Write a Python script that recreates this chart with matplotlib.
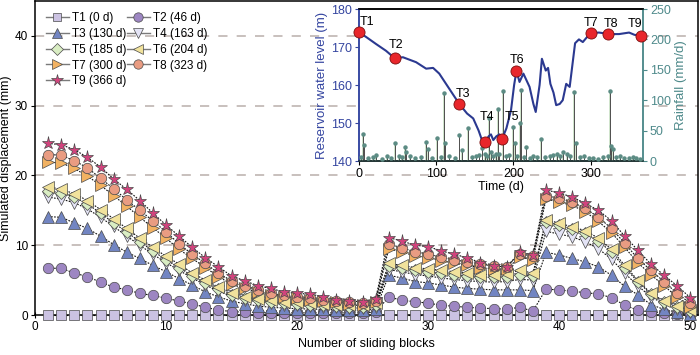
import numpy as np
import matplotlib
matplotlib.use("Agg")
import matplotlib.pyplot as plt
from matplotlib.lines import Line2D

plt.rcParams['font.family'] = ['Liberation Sans', 'DejaVu Sans']

# ---------------- data ----------------
blocks = list(range(1, 51))

T1 = [0.0] * 50
T2 = [6.7, 6.7, 6.0, 5.5, 4.7, 4.0, 3.6, 3.1, 2.8, 2.4, 2.0, 1.6, 1.1, 0.7, 0.5, 0.4, 0.35, 0.3, 0.3, 0.3,
      0.3, 0.3, 0.3, 0.3, 0.3, 0.4,
      2.6, 2.1, 1.9, 1.7, 1.4, 1.25, 1.1, 1.0, 0.9, 0.85, 1.1, 0.55,
      3.7, 3.6, 3.4, 3.2, 3.0, 2.5, 1.4, 0.7, 0.4, 0.3, 0.2, 0.15]
T3 = [14.1, 14.0, 13.2, 12.4, 11.3, 10.1, 9.0, 8.1, 7.1, 6.2, 5.2, 4.3, 3.3, 2.6, 2.0, 1.6, 1.3, 1.1, 1.0, 0.9,
      0.85, 0.8, 0.75, 0.7, 0.7, 0.8,
      5.7, 5.3, 4.8, 4.6, 4.3, 4.0, 3.8, 3.7, 3.6, 3.6, 3.6, 3.5,
      9.0, 8.6, 8.1, 7.6, 6.9, 5.7, 4.1, 2.9, 1.5, 0.8, 0.4, 0.2]
T4 = [16.9, 16.6, 16.1, 15.2, 14.0, 12.7, 11.3, 10.0, 8.7, 7.5, 6.4, 5.3, 4.3, 3.4, 2.7, 2.2, 1.9, 1.7, 1.5, 1.4,
      1.3, 1.2, 1.1, 1.0, 1.0, 1.2,
      6.5, 6.2, 5.8, 5.6, 5.3, 5.1, 4.9, 4.8, 4.7, 4.8, 5.1, 5.0,
      12.0, 11.6, 11.2, 10.5, 9.5, 8.0, 6.0, 4.2, 2.6, 1.6, 0.9, 0.4]
T5 = [17.8, 17.5, 16.9, 15.9, 14.6, 13.2, 11.9, 10.5, 9.2, 7.9, 6.8, 5.6, 4.6, 3.7, 2.9, 2.4, 2.1, 1.9, 1.7, 1.6,
      1.5, 1.4, 1.3, 1.2, 1.2, 1.5,
      7.0, 6.7, 6.4, 6.2, 6.0, 5.8, 5.6, 5.4, 5.4, 5.5, 5.8, 5.6,
      13.3, 12.9, 12.3, 11.7, 10.6, 9.0, 6.8, 4.8, 3.0, 1.9, 1.2, 0.6]
T6 = [18.4, 18.0, 17.4, 16.4, 15.1, 13.8, 12.4, 11.0, 9.7, 8.4, 7.3, 6.0, 5.0, 4.0, 3.2, 2.6, 2.3, 2.1, 1.9, 1.8,
      1.7, 1.6, 1.5, 1.4, 1.4, 1.7,
      7.4, 7.1, 6.8, 6.6, 6.4, 6.2, 6.0, 5.8, 5.8, 5.9, 6.4, 6.0,
      13.6, 13.2, 12.6, 12.1, 11.0, 9.4, 7.1, 5.0, 3.1, 2.0, 1.3, 0.7]
T7 = [21.9, 21.8, 21.0, 19.9, 18.6, 17.1, 15.6, 14.0, 12.5, 11.0, 9.4, 8.1, 6.8, 5.5, 4.4, 3.8, 3.3, 2.9, 2.6, 2.4,
      2.2, 2.0, 1.8, 1.6, 1.5, 1.9,
      9.5, 9.0, 8.5, 8.2, 7.8, 7.4, 7.1, 6.8, 6.6, 6.6, 8.3, 7.9,
      16.6, 16.2, 15.7, 14.8, 13.4, 11.8, 9.7, 7.5, 5.8, 4.2, 2.6, 1.2]
T8 = [23.0, 22.9, 22.1, 21.1, 19.6, 18.1, 16.5, 15.0, 13.5, 11.9, 10.2, 8.7, 7.4, 6.0, 4.9, 4.2, 3.6, 3.1, 2.8, 2.6,
      2.4, 2.2, 2.0, 1.8, 1.7, 2.0,
      10.2, 9.6, 9.1, 8.7, 8.3, 7.9, 7.6, 7.3, 7.0, 6.9, 8.8, 8.4,
      17.1, 16.7, 16.2, 15.3, 14.0, 12.4, 10.3, 8.1, 6.4, 4.8, 3.1, 1.7]
T9 = [24.6, 24.4, 23.7, 22.6, 21.2, 19.5, 18.0, 16.4, 14.6, 12.9, 11.3, 9.7, 8.2, 6.9, 5.6, 4.9, 4.2, 3.8, 3.3, 3.1,
      3.0, 2.6, 2.2, 2.0, 1.9, 2.3,
      11.1, 10.6, 10.0, 9.8, 9.2, 8.7, 8.2, 7.5, 7.0, 6.9, 9.0, 8.6,
      17.9, 17.5, 16.9, 16.0, 15.0, 13.5, 11.3, 9.3, 7.3, 5.7, 4.2, 2.5]

series_labels = ["T1 (0 d)", "T2 (46 d)", "T3 (130 d)", "T4 (163 d)", "T5 (185 d)",
                 "T6 (204 d)", "T7 (300 d)", "T8 (323 d)", "T9 (366 d)"]

# inset: reservoir water level
wl_day = [0, 9.5, 22, 35, 46, 57, 74, 87, 96, 104, 117, 130, 140, 148, 155, 160, 163, 165, 168, 171,
          174, 178, 182, 185.6, 191, 197, 201, 204, 208, 213, 221, 226, 229, 234, 237, 242, 245, 248,
          252, 255.5, 260, 264, 268.5, 273, 280, 285, 290, 295, 301, 311, 325, 337, 350, 357, 366]
wl_level = [173.9, 172.6, 170.8, 169.0, 167.1, 167.3, 166.0, 164.3, 164.5, 163.0, 159.0, 155.0, 152.5,
            151.2, 148.0, 145.1, 145.1, 145.5, 146.5, 147.0, 145.5, 146.5, 147.0, 145.9, 148.6, 153.4,
            160.0, 163.7, 160.8, 163.0, 159.5, 155.0, 152.9, 160.0, 166.9, 163.8, 164.5, 160.3, 158.0,
            154.7, 155.0, 156.0, 160.3, 159.5, 171.0, 172.0, 171.3, 172.5, 173.7, 173.8, 173.4, 173.4,
            173.8, 173.2, 173.0]

t_names = ["T1", "T2", "T3", "T4", "T5", "T6", "T7", "T8", "T9"]
t_days = [0, 46, 130, 163, 185, 204, 300, 323, 366]
t_levels = [173.9, 167.1, 155.0, 145.1, 145.9, 163.7, 173.7, 173.4, 173.0]

rain_day = [2, 5, 7, 12, 18, 22, 30, 36, 41, 46, 52, 56, 59, 61, 66, 72, 80, 87, 89, 95, 101, 106, 110,
            112, 117, 124, 130, 133, 141, 147, 152, 156, 160, 163, 166, 168, 171, 174, 177, 180, 182,
            186, 187, 191, 195, 199, 202, 205, 208, 210, 214, 217, 222, 225, 230, 236, 241, 247, 252,
            256, 260, 264, 269, 274, 278, 281, 286, 292, 298, 303, 310, 316, 322, 325, 327, 329, 333,
            338, 344, 350, 355, 359, 364]
rain_val = [6, 45, 26, 5, 7, 10, 4, 8, 5, 29, 8, 6, 23, 15, 8, 5, 6, 32, 20, 5, 38, 6, 112, 29, 8, 5,
            43, 18, 54, 6, 8, 10, 21, 12, 9, 70, 15, 8, 12, 85, 12, 115, 35, 8, 10, 56, 30, 8, 62, 116,
            6, 23, 5, 8, 6, 37, 6, 8, 10, 12, 8, 14, 12, 8, 113, 30, 6, 8, 5, 5, 4, 6, 9, 115, 25, 20,
            6, 8, 5, 5, 6, 5, 4]

# ---------------- styling ----------------
markers = ['s', 'o', '^', 'v', 'D', '<', '>', 'o', '*']
faces = ['#CBC2E2', '#9D86C2', '#7285C2', '#E4E4F6', '#D9EDC3', '#F1E29C', '#F2B262', '#E99C82', '#D2437D']
msizes = [6.8, 7.5, 8, 8, 6.5, 8, 8, 7.5, 9.5]

fig = plt.figure(figsize=(7.0, 3.55), dpi=100)
ax = fig.add_axes([35 / 700, 1 - 315 / 355, 663 / 700, 314 / 355])

for yv in [10, 20, 30, 40]:
    ax.axhline(yv, color='#BFB5B1', lw=1.2, dashes=(5.5, 5.5), zorder=0)

all_series = [T1, T2, T3, T4, T5, T6, T7, T8, T9]
for i, ys in enumerate(all_series):
    ax.plot(blocks, ys, linestyle=(0, (1.5, 1.2)), color='#111111', lw=0.8, zorder=2 + i * 0.1,
            clip_on=False)
    ax.plot(blocks, ys, linestyle='none', marker=markers[i], ms=msizes[i], mfc=faces[i],
            mec='#4A4A4A', mew=0.5, zorder=3 + i * 0.1, clip_on=False)

ax.set_xlim(0, 50.6)
ax.set_ylim(0, 45)
ax.set_xticks([0, 10, 20, 30, 40, 50])
ax.set_yticks([0, 10, 20, 30, 40])
ax.tick_params(axis='x', direction='inout', length=4, labelsize=8.5, pad=2)
ax.tick_params(axis='y', direction='out', length=3, labelsize=8.5, pad=2)
for s in ax.spines.values():
    s.set_linewidth(1.1)
ax.set_xlabel("Number of sliding blocks", fontsize=9, labelpad=4)
ax.set_ylabel("Simulated displacement (mm)", fontsize=9, labelpad=2)

handles = [Line2D([], [], color='#7A7A7A', lw=1.0, marker=markers[i], ms=msizes[i] * 0.9,
                  mfc=faces[i], mec='#4A4A4A', mew=0.5) for i in range(9)]
order = [0, 2, 4, 6, 8, 1, 3, 5, 7]
leg = ax.legend([handles[i] for i in order], [series_labels[i] for i in order], ncol=2,
                loc='upper left', bbox_to_anchor=(0.0, 0.998), frameon=False, fontsize=8.5,
                handlelength=1.95, handletextpad=0.3, columnspacing=0.0, labelspacing=0.32,
                borderpad=0.4)

# ---------------- inset ----------------
blue = '#3445A0'
teal = '#4F8A8B'
ax1 = fig.add_axes([359 / 700, 1 - 161 / 355, 284 / 700, 152 / 355])
ax1.set_facecolor('white')
ax2 = ax1.twinx()
ax1.set_zorder(10)
ax2.set_zorder(11)
ax2.patch.set_visible(False)

ax2.bar(rain_day, rain_val, width=2.0, color='#C5DEC0', alpha=0.8, zorder=1)
ax2.vlines(rain_day, 0, rain_val, color='#4E4E4E', lw=0.7, zorder=2)
ax2.plot(rain_day, rain_val, linestyle='none', marker='o', ms=2.2, color='#5C8C84', zorder=3)
ax2.set_ylim(0, 250)
ax2.set_yticks([0, 50, 100, 150, 200, 250])
ax2.tick_params(axis='y', colors=teal, labelsize=9, length=3, pad=2)
ax2.set_ylabel("Rainfall (mm/d)", color=teal, fontsize=9.5, labelpad=3)

# reservoir level drawn on the rainfall axes so it sits on top (140-180 m -> 0-250)
lvl_to_rain = lambda v: (np.asarray(v) - 140) / 40 * 250
ax2.plot(wl_day, lvl_to_rain(wl_level), color='#2B3990', lw=1.5, zorder=4)
ax2.plot(t_days, lvl_to_rain(t_levels), linestyle='none', marker='o', ms=8, mfc='#E8262B',
         mec='#7A1010', mew=0.6, zorder=5, clip_on=False)
label_offsets = [(6.0, 7.2), (1.4, 9.1), (2.4, 7.5), (1.9, 18.0), (7.6, 15.5),
                 (0.7, 7.7), (0.7, 6.9), (1.9, 7.6), (-4.8, 8.6)]
for name, d, lv, off in zip(t_names, t_days, t_levels, label_offsets):
    ax2.annotate(name, (d, lvl_to_rain(lv)), xytext=off, textcoords='offset points',
                 fontsize=9, ha='center', va='center', zorder=6, annotation_clip=False)

ax1.set_xlim(0, 368)
ax1.set_ylim(140, 180)
ax1.set_yticks([140, 150, 160, 170, 180])
ax1.set_xticks([0, 100, 200, 300])
ax1.tick_params(axis='y', colors=blue, labelsize=9, length=3, pad=2)
ax1.tick_params(axis='x', labelsize=9, length=3, pad=2)
ax1.set_ylabel("Reservoir water level (m)", color=blue, fontsize=9.5, labelpad=2)
ax1.set_xlabel("Time (d)", fontsize=9, labelpad=1)
ax1.spines['left'].set_color(blue)
ax2.spines['left'].set_color(blue)
ax2.spines['right'].set_color(teal)
ax1.spines['right'].set_color(teal)
for a in (ax1, ax2):
    for s in a.spines.values():
        s.set_linewidth(1.1)
ax2.spines['bottom'].set_color('#203838')

fig.savefig("out.png", dpi=100)
